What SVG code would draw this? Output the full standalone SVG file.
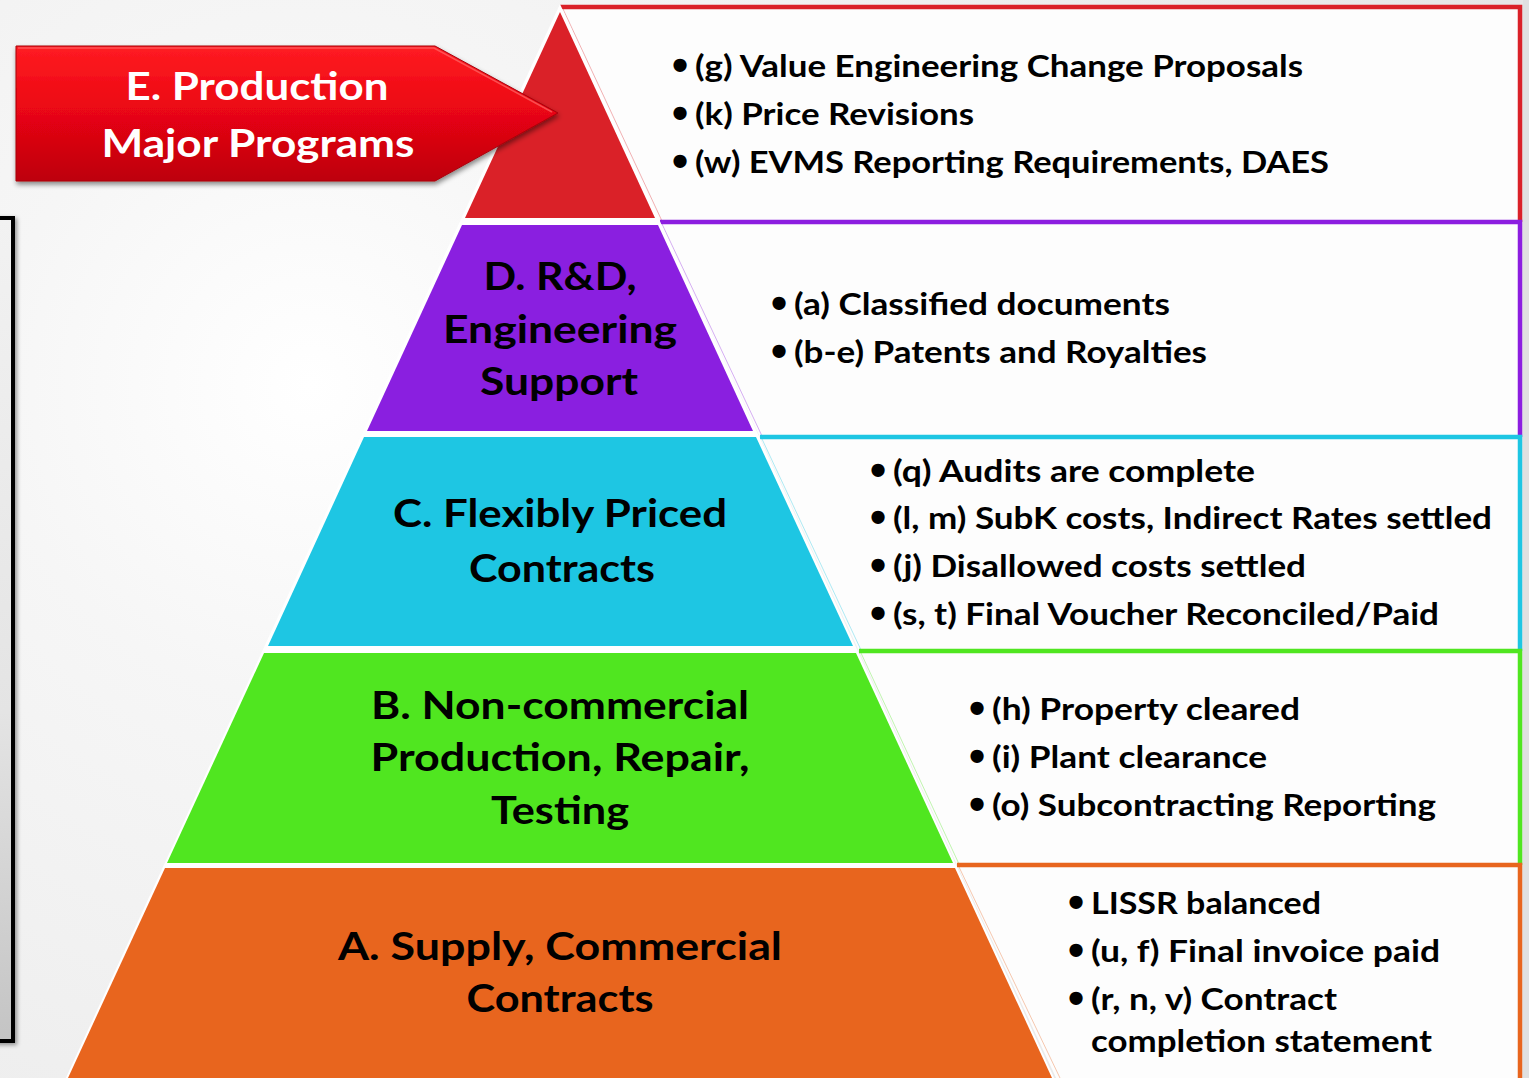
<svg xmlns="http://www.w3.org/2000/svg" width="1529" height="1078" viewBox="0 0 1529 1078">
<defs>
<radialGradient id="bg" cx="310" cy="385" r="1250" gradientUnits="userSpaceOnUse">
<stop offset="0" stop-color="#FFFFFF"/>
<stop offset="0.25" stop-color="#F6F6F6"/>
<stop offset="1" stop-color="#E6E6E6"/>
</radialGradient>
<linearGradient id="brk" x1="0" y1="218" x2="0" y2="1041" gradientUnits="userSpaceOnUse">
<stop offset="0" stop-color="#F2F2F2"/>
<stop offset="0.6" stop-color="#E4E4E4"/>
<stop offset="1" stop-color="#C4C4C4"/>
</linearGradient>
<linearGradient id="arr" x1="0" y1="46" x2="0" y2="181" gradientUnits="userSpaceOnUse">
<stop offset="0" stop-color="#FF1C22"/>
<stop offset="0.45" stop-color="#EC0713"/>
<stop offset="1" stop-color="#BD000E"/>
</linearGradient>
<filter id="sh" x="-10%" y="-10%" width="130%" height="140%">
<feDropShadow dx="1" dy="3" stdDeviation="2.5" flood-color="#000" flood-opacity="0.45"/>
</filter>
<filter id="sh2" x="-50%" y="-5%" width="200%" height="110%">
<feDropShadow dx="2" dy="2" stdDeviation="2" flood-color="#000" flood-opacity="0.4"/>
</filter>
</defs>
<style>
.lbl{font-family:Lato,"Open Sans","Liberation Sans",sans-serif;font-weight:700;font-size:39px;fill:#000;text-anchor:middle}
.wl{fill:#FFFFFF}
.itm{font-family:Lato,"Open Sans","Liberation Sans",sans-serif;font-weight:700;font-size:30px;fill:#000}
.bul{font-family:"Liberation Sans",sans-serif;font-weight:700;font-size:46px;fill:#000;text-anchor:middle}
.box{fill:#FDFDFD}
.bd{fill:none;stroke-width:4.5;stroke-linejoin:miter}
.slant{fill:none;stroke-width:1;opacity:0.35}
</style>

<rect x="0" y="0" width="1529" height="1078" fill="url(#bg)"/>
<rect x="1523" y="0" width="6" height="1078" fill="#E0E0E0"/>

<g id="left-frame">
<rect x="-20" y="218" width="33" height="823" fill="url(#brk)" stroke="#000" stroke-width="4" filter="url(#sh2)"/>
</g>

<g id="box-E">
<polygon class="box" points="560,7 1520,7 1520,222 660,222"/>
<polyline class="bd" stroke="#DA2128" points="560,7 1520,7 1520,222"/>
<line class="slant" stroke="#DA2128" x1="563" y1="9" x2="662" y2="221"/>
<text class="bul" x="680" y="81">•</text>
<text class="itm" x="695" y="77" textLength="608" lengthAdjust="spacingAndGlyphs">(g) Value Engineering Change Proposals</text>
<text class="bul" x="680" y="129">•</text>
<text class="itm" x="695" y="125" textLength="279" lengthAdjust="spacingAndGlyphs">(k) Price Revisions</text>
<text class="bul" x="680" y="177">•</text>
<text class="itm" x="695" y="173" textLength="634" lengthAdjust="spacingAndGlyphs">(w) EVMS Reporting Requirements, DAES</text>
</g>

<g id="box-D">
<polygon class="box" points="660,222 1520,222 1520,437 760,437"/>
<polyline class="bd" stroke="#8C1EE0" points="660,222 1520,222 1520,437"/>
<line class="slant" stroke="#8C1EE0" x1="662" y1="224" x2="762" y2="436"/>
<text class="bul" x="779" y="319">•</text>
<text class="itm" x="794" y="315" textLength="376" lengthAdjust="spacingAndGlyphs">(a) Classified documents</text>
<text class="bul" x="779" y="367">•</text>
<text class="itm" x="794" y="363" textLength="413" lengthAdjust="spacingAndGlyphs">(b-e) Patents and Royalties</text>
</g>

<g id="box-C">
<polygon class="box" points="760,437 1520,437 1520,651 859,651"/>
<polyline class="bd" stroke="#1EC6E3" points="760,437 1520,437 1520,651"/>
<line class="slant" stroke="#1EC6E3" x1="762" y1="439" x2="861" y2="650"/>
<text class="bul" x="878" y="486">•</text>
<text class="itm" x="893" y="482" textLength="362" lengthAdjust="spacingAndGlyphs">(q) Audits are complete</text>
<text class="bul" x="878" y="533">•</text>
<text class="itm" x="893" y="529" textLength="599" lengthAdjust="spacingAndGlyphs">(l, m) SubK costs, Indirect Rates settled</text>
<text class="bul" x="878" y="581">•</text>
<text class="itm" x="893" y="577" textLength="413" lengthAdjust="spacingAndGlyphs">(j) Disallowed costs settled</text>
<text class="bul" x="878" y="629">•</text>
<text class="itm" x="893" y="625" textLength="546" lengthAdjust="spacingAndGlyphs">(s, t) Final Voucher Reconciled/Paid</text>
</g>

<g id="box-B">
<polygon class="box" points="859,651 1520,651 1520,865 957,865"/>
<polyline class="bd" stroke="#50E620" points="859,651 1520,651 1520,865"/>
<line class="slant" stroke="#50E620" x1="861" y1="653" x2="959" y2="864"/>
<text class="bul" x="977" y="724">•</text>
<text class="itm" x="992" y="720" textLength="308" lengthAdjust="spacingAndGlyphs">(h) Property cleared</text>
<text class="bul" x="977" y="772">•</text>
<text class="itm" x="992" y="768" textLength="275" lengthAdjust="spacingAndGlyphs">(i) Plant clearance</text>
<text class="bul" x="977" y="820">•</text>
<text class="itm" x="992" y="816" textLength="444" lengthAdjust="spacingAndGlyphs">(o) Subcontracting Reporting</text>
</g>

<g id="box-A">
<polygon class="box" points="957,865 1520,865 1520,1082 1058,1082"/>
<polyline class="bd" stroke="#E8651E" points="957,865 1520,865 1520,1082"/>
<line class="slant" stroke="#E8651E" x1="959" y1="867" x2="1060" y2="1078"/>
<text class="bul" x="1076" y="918">•</text>
<text class="itm" x="1091" y="914" textLength="230" lengthAdjust="spacingAndGlyphs">LISSR balanced</text>
<text class="bul" x="1076" y="966">•</text>
<text class="itm" x="1091" y="962" textLength="349" lengthAdjust="spacingAndGlyphs">(u, f) Final invoice paid</text>
<text class="bul" x="1076" y="1014">•</text>
<text class="itm" x="1091" y="1010" textLength="246" lengthAdjust="spacingAndGlyphs">(r, n, v) Contract</text>
<text class="itm" x="1091" y="1052" textLength="341" lengthAdjust="spacingAndGlyphs">completion statement</text>
</g>

<g id="pyramid-outline">
<polygon points="560,4 64,1082 1056,1082" fill="#FFFFFF"/>
</g>

<g id="tier-E">
<polygon points="560,12 465,218 655,218" fill="#DA2128"/>
</g>
<g id="tier-D">
<polygon points="462,225 658,225 753,431 367,431" fill="#8A1FE0"/>
<text class="lbl" x="560" y="290" textLength="153" lengthAdjust="spacingAndGlyphs">D. R&amp;D,</text>
<text class="lbl" x="560" y="343" textLength="234" lengthAdjust="spacingAndGlyphs">Engineering</text>
<text class="lbl" x="559" y="395" textLength="158" lengthAdjust="spacingAndGlyphs">Support</text>
</g>
<g id="tier-C">
<polygon points="364,437 756,437 853,646 268,646" fill="#1EC6E3"/>
<text class="lbl" x="560" y="527" textLength="334" lengthAdjust="spacingAndGlyphs">C. Flexibly Priced</text>
<text class="lbl" x="562" y="582" textLength="186" lengthAdjust="spacingAndGlyphs">Contracts</text>
</g>
<g id="tier-B">
<polygon points="264,653 856,653 953,863 167,863" fill="#50E620"/>
<text class="lbl" x="560" y="719" textLength="378" lengthAdjust="spacingAndGlyphs">B. Non-commercial</text>
<text class="lbl" x="560" y="771" textLength="379" lengthAdjust="spacingAndGlyphs">Production, Repair,</text>
<text class="lbl" x="560" y="824" textLength="138" lengthAdjust="spacingAndGlyphs">Testing</text>
</g>
<g id="tier-A">
<polygon points="165,868 955,868 1052,1078 68,1078" fill="#E8651E"/>
<text class="lbl" x="560" y="960" textLength="444" lengthAdjust="spacingAndGlyphs">A. Supply, Commercial</text>
<text class="lbl" x="560" y="1012" textLength="187" lengthAdjust="spacingAndGlyphs">Contracts</text>
</g>

<g id="arrow-E">
<polygon points="16,46 435,46 558,113 435,181 16,181" fill="url(#arr)" stroke="#A8000A" stroke-width="1" filter="url(#sh)"/>
<polyline points="18,48 434,48 552,112" fill="none" stroke="#FF6A6A" stroke-width="1.5" opacity="0.7"/>
<text class="lbl wl" x="257" y="100" textLength="263" lengthAdjust="spacingAndGlyphs">E. Production</text>
<text class="lbl wl" x="258" y="157" textLength="313" lengthAdjust="spacingAndGlyphs">Major Programs</text>
</g>
</svg>
